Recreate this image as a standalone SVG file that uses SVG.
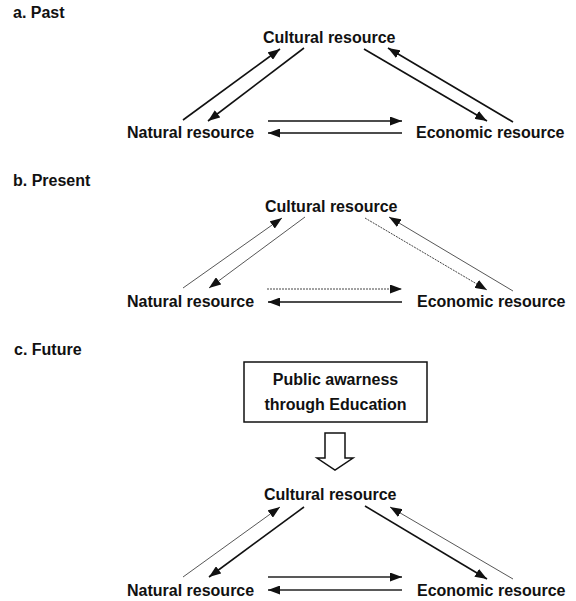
<svg xmlns="http://www.w3.org/2000/svg" width="576" height="601" viewBox="0 0 576 601">
<style>
text{font-family:"Liberation Sans",Arial,sans-serif;font-weight:bold;font-size:16px;fill:#111}
line{fill:none;stroke-linecap:butt}
.s{stroke:#111;stroke-width:1.6}
.m{stroke:#222;stroke-width:1.3}
.t{stroke:#444;stroke-width:0.9}
.d{stroke:#444;stroke-width:1;stroke-dasharray:2 1}
.box{fill:#fff;stroke:#111;stroke-width:1.5}
</style>
<defs>
<marker id="ah" markerUnits="userSpaceOnUse" markerWidth="12" markerHeight="9" refX="12" refY="4.5" orient="auto" viewBox="0 0 12 9">
<path d="M0,0 L12,4.5 L0,9 z" fill="#111"/>
</marker>
</defs>
<rect width="576" height="601" fill="#fff"/>

<g id="panel-labels">
<text x="13" y="18">a. Past</text>
<text x="13" y="186">b. Present</text>
<text x="14" y="355">c. Future</text>
</g>

<!-- Panel a -->
<g id="a-cultural"><text x="263" y="43">Cultural resource</text></g>
<g id="a-natural"><text x="127" y="138">Natural resource</text></g>
<g id="a-economic"><text x="416" y="138">Economic resource</text></g>
<g id="a-connectors">
<line class="s" x1="183" y1="120" x2="280" y2="49" marker-end="url(#ah)"/>
<line class="s" x1="304" y1="48" x2="208" y2="121" marker-end="url(#ah)"/>
<line class="s" x1="364" y1="49" x2="487" y2="121" marker-end="url(#ah)"/>
<line class="s" x1="513" y1="122" x2="388" y2="48" marker-end="url(#ah)"/>
<line class="s" x1="268" y1="121" x2="402" y2="121" marker-end="url(#ah)"/>
<line class="s" x1="402" y1="133" x2="268" y2="133" marker-end="url(#ah)"/>
</g>

<!-- Panel b -->
<g id="b-cultural"><text x="265" y="212">Cultural resource</text></g>
<g id="b-natural"><text x="127" y="307">Natural resource</text></g>
<g id="b-economic"><text x="417" y="307">Economic resource</text></g>
<g id="b-connectors">
<line class="t" x1="183" y1="288" x2="282" y2="218" marker-end="url(#ah)"/>
<line class="t" x1="305" y1="217" x2="209" y2="288" marker-end="url(#ah)"/>
<line class="d" x1="365" y1="218" x2="487" y2="290" marker-end="url(#ah)"/>
<line class="t" x1="513" y1="291" x2="389" y2="217" marker-end="url(#ah)"/>
<line class="d" x1="267" y1="289" x2="402" y2="289" marker-end="url(#ah)"/>
<line class="s" x1="402" y1="302" x2="268" y2="302" marker-end="url(#ah)"/>
</g>

<!-- Panel c -->
<g id="c-education">
<rect class="box" x="244" y="362" width="183" height="60"/>
<text x="335.5" y="385" text-anchor="middle">Public awarness</text>
<text x="335.5" y="410" text-anchor="middle">through Education</text>
</g>
<g id="c-blockarrow">
<path class="box" d="M325,433 L345,433 L345,458 L353,458 L335,470 L317,458 L325,458 Z"/>
</g>
<g id="c-cultural"><text x="264" y="500">Cultural resource</text></g>
<g id="c-natural"><text x="127" y="596">Natural resource</text></g>
<g id="c-economic"><text x="417" y="596">Economic resource</text></g>
<g id="c-connectors">
<line class="t" x1="183" y1="577" x2="280" y2="507" marker-end="url(#ah)"/>
<line class="s" x1="304" y1="507" x2="209" y2="577" marker-end="url(#ah)"/>
<line class="s" x1="365" y1="506" x2="487" y2="579" marker-end="url(#ah)"/>
<line class="t" x1="513" y1="579" x2="390" y2="507" marker-end="url(#ah)"/>
<line class="m" x1="268" y1="577" x2="402" y2="577" marker-end="url(#ah)"/>
<line class="m" x1="402" y1="590" x2="268" y2="590" marker-end="url(#ah)"/>
</g>
</svg>
